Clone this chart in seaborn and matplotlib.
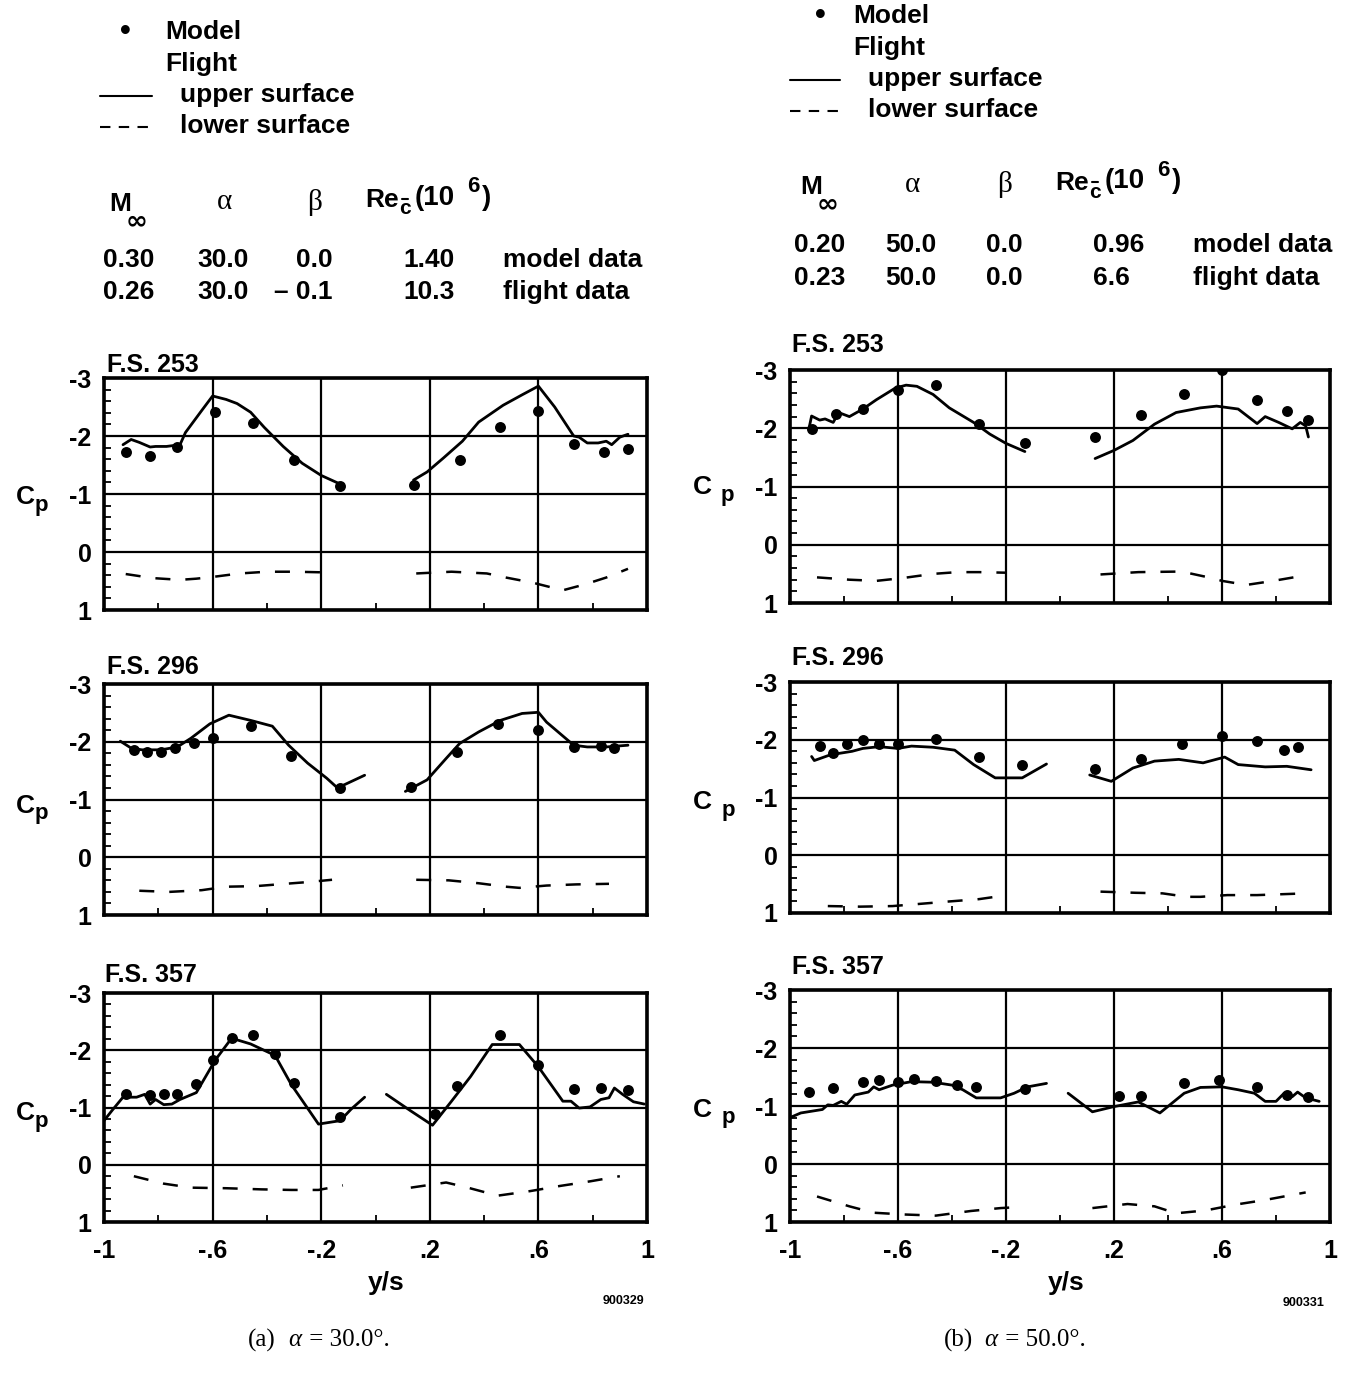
import numpy as np
import pandas as pd
import matplotlib
matplotlib.use("Agg")
import matplotlib.pyplot as plt
import seaborn as sns
from matplotlib.lines import Line2D
from matplotlib.ticker import FixedLocator, MultipleLocator

# ---------------- data (y/s, Cp) ----------------
# (a) alpha = 30, F.S. 253
A253_UP_L_X = [-0.93, -0.90, -0.87, -0.83, -0.81, -0.77, -0.72, -0.70, -0.64, -0.60, -0.55, -0.51, -0.46, -0.41, -0.34, -0.27, -0.20, -0.12]
A253_UP_L_CP = [-1.85, -1.94, -1.89, -1.81, -1.82, -1.82, -1.85, -2.06, -2.44, -2.69, -2.63, -2.56, -2.41, -2.15, -1.82, -1.53, -1.32, -1.15]
A253_UP_R_X = [0.14, 0.19, 0.25, 0.32, 0.38, 0.47, 0.54, 0.60, 0.66, 0.73, 0.75, 0.78, 0.82, 0.85, 0.87, 0.90, 0.93]
A253_UP_R_CP = [-1.24, -1.38, -1.62, -1.91, -2.24, -2.53, -2.71, -2.86, -2.50, -2.00, -1.98, -1.88, -1.88, -1.91, -1.85, -1.98, -2.03]
A253_LO_L_X = [-0.92, -0.82, -0.72, -0.66, -0.60, -0.50, -0.40, -0.30, -0.20]
A253_LO_L_CP = [0.38, 0.45, 0.48, 0.46, 0.43, 0.37, 0.34, 0.34, 0.35]
A253_LO_R_X = [0.15, 0.28, 0.41, 0.48, 0.58, 0.69, 0.77, 0.85, 0.93]
A253_LO_R_CP = [0.37, 0.34, 0.37, 0.44, 0.53, 0.66, 0.56, 0.44, 0.29]
A253_MOD_X = [-0.92, -0.83, -0.73, -0.59, -0.45, -0.30, -0.13, 0.14, 0.31, 0.46, 0.60, 0.73, 0.84, 0.93]
A253_MOD_CP = [-1.72, -1.66, -1.81, -2.42, -2.22, -1.58, -1.14, -1.15, -1.58, -2.15, -2.43, -1.86, -1.72, -1.78]

# (a) F.S. 296
A296_UP_L_X = [-0.94, -0.90, -0.86, -0.79, -0.73, -0.68, -0.61, -0.54, -0.46, -0.38, -0.32, -0.25, -0.18, -0.14, -0.09, -0.04]
A296_UP_L_CP = [-2.01, -1.89, -1.86, -1.86, -1.91, -2.06, -2.31, -2.46, -2.37, -2.27, -1.94, -1.63, -1.37, -1.20, -1.31, -1.42]
A296_UP_R_X = [0.11, 0.19, 0.26, 0.31, 0.38, 0.46, 0.54, 0.60, 0.63, 0.68, 0.73, 0.78, 0.85, 0.93]
A296_UP_R_CP = [-1.14, -1.34, -1.71, -1.97, -2.17, -2.37, -2.49, -2.51, -2.34, -2.14, -1.94, -1.91, -1.91, -1.94]
A296_LO_L_X = [-0.87, -0.76, -0.64, -0.55, -0.44, -0.36, -0.25, -0.16]
A296_LO_L_CP = [0.58, 0.60, 0.57, 0.51, 0.50, 0.47, 0.43, 0.39]
A296_LO_R_X = [0.15, 0.27, 0.38, 0.48, 0.53, 0.63, 0.74, 0.86]
A296_LO_R_CP = [0.39, 0.40, 0.45, 0.51, 0.53, 0.49, 0.47, 0.46]
A296_MOD_X = [-0.89, -0.84, -0.79, -0.74, -0.67, -0.60, -0.46, -0.31, -0.13, 0.13, 0.30, 0.45, 0.60, 0.73, 0.83, 0.88]
A296_MOD_CP = [-1.86, -1.83, -1.83, -1.89, -1.98, -2.07, -2.27, -1.76, -1.20, -1.21, -1.83, -2.30, -2.20, -1.91, -1.93, -1.89]

# (a) F.S. 357
A357_UP_L_X = [-1.00, -0.97, -0.93, -0.88, -0.85, -0.83, -0.81, -0.78, -0.75, -0.72, -0.66, -0.59, -0.53, -0.46, -0.37, -0.31, -0.21, -0.13, -0.09, -0.04]
A357_UP_L_CP = [-0.77, -0.95, -1.18, -1.18, -1.23, -1.06, -1.14, -1.05, -1.06, -1.14, -1.26, -1.83, -2.21, -2.11, -1.91, -1.40, -0.71, -0.77, -0.97, -1.18]
A357_UP_R_X = [0.04, 0.13, 0.21, 0.28, 0.35, 0.43, 0.53, 0.60, 0.69, 0.72, 0.75, 0.79, 0.83, 0.86, 0.88, 0.91, 0.95, 0.99]
A357_UP_R_CP = [-1.23, -0.94, -0.69, -1.11, -1.54, -2.10, -2.10, -1.71, -1.11, -1.11, -0.99, -1.01, -1.14, -1.17, -1.34, -1.23, -1.10, -1.06]
A357_LO_L_X = [-0.89, -0.78, -0.68, -0.55, -0.42, -0.31, -0.21, -0.12]
A357_LO_L_CP = [0.20, 0.33, 0.40, 0.41, 0.43, 0.44, 0.44, 0.36]
A357_LO_R_X = [0.13, 0.26, 0.34, 0.45, 0.57, 0.68, 0.79, 0.90]
A357_LO_R_CP = [0.40, 0.31, 0.40, 0.54, 0.46, 0.37, 0.29, 0.20]
A357_MOD_X = [-0.92, -0.83, -0.78, -0.73, -0.66, -0.60, -0.53, -0.45, -0.37, -0.30, -0.13, 0.22, 0.30, 0.46, 0.60, 0.73, 0.83, 0.93]
A357_MOD_CP = [-1.23, -1.22, -1.24, -1.24, -1.41, -1.83, -2.21, -2.27, -1.94, -1.43, -0.83, -0.89, -1.38, -2.27, -1.75, -1.33, -1.34, -1.31]

# (b) alpha = 50, F.S. 253
B253_UP_L_X = [-0.93, -0.92, -0.89, -0.87, -0.84, -0.82, -0.78, -0.73, -0.68, -0.61, -0.57, -0.53, -0.47, -0.41, -0.32, -0.26, -0.20, -0.13]
B253_UP_L_CP = [-1.99, -2.21, -2.14, -2.16, -2.10, -2.27, -2.20, -2.33, -2.49, -2.69, -2.74, -2.72, -2.58, -2.35, -2.10, -1.90, -1.74, -1.60]
B253_UP_R_X = [0.13, 0.20, 0.27, 0.35, 0.43, 0.52, 0.58, 0.66, 0.73, 0.76, 0.81, 0.86, 0.89, 0.91, 0.92]
B253_UP_R_CP = [-1.48, -1.62, -1.79, -2.07, -2.27, -2.35, -2.38, -2.33, -2.08, -2.20, -2.10, -1.99, -2.10, -2.04, -1.85]
B253_LO_L_X = [-0.90, -0.78, -0.68, -0.58, -0.47, -0.38, -0.30, -0.20]
B253_LO_L_CP = [0.56, 0.60, 0.62, 0.57, 0.50, 0.47, 0.47, 0.48]
B253_LO_R_X = [0.15, 0.29, 0.45, 0.56, 0.60, 0.69, 0.79, 0.89]
B253_LO_R_CP = [0.51, 0.47, 0.46, 0.57, 0.62, 0.69, 0.62, 0.54]
B253_MOD_X = [-0.92, -0.83, -0.73, -0.60, -0.46, -0.30, -0.13, 0.13, 0.30, 0.46, 0.60, 0.73, 0.84, 0.92]
B253_MOD_CP = [-1.99, -2.24, -2.33, -2.66, -2.74, -2.07, -1.75, -1.85, -2.22, -2.59, -3.00, -2.49, -2.30, -2.14]

# (b) F.S. 296
B296_UP_L_X = [-0.92, -0.91, -0.85, -0.81, -0.77, -0.73, -0.67, -0.60, -0.55, -0.47, -0.39, -0.32, -0.24, -0.14, -0.05]
B296_UP_L_CP = [-1.71, -1.64, -1.74, -1.77, -1.80, -1.85, -1.88, -1.85, -1.89, -1.87, -1.82, -1.57, -1.34, -1.34, -1.58]
B296_UP_R_X = [0.11, 0.19, 0.27, 0.35, 0.44, 0.53, 0.61, 0.66, 0.76, 0.84, 0.93]
B296_UP_R_CP = [-1.39, -1.28, -1.51, -1.63, -1.66, -1.60, -1.70, -1.57, -1.53, -1.54, -1.48]
B296_LO_L_X = [-0.86, -0.74, -0.62, -0.54, -0.41, -0.30, -0.24]
B296_LO_L_CP = [0.88, 0.89, 0.88, 0.85, 0.80, 0.76, 0.72]
B296_LO_R_X = [0.15, 0.28, 0.38, 0.47, 0.52, 0.62, 0.73, 0.91]
B296_LO_R_CP = [0.63, 0.65, 0.66, 0.72, 0.72, 0.69, 0.69, 0.66]
B296_MOD_X = [-0.89, -0.84, -0.79, -0.73, -0.67, -0.60, -0.46, -0.30, -0.14, 0.13, 0.30, 0.45, 0.60, 0.73, 0.83, 0.88]
B296_MOD_CP = [-1.89, -1.77, -1.93, -1.99, -1.93, -1.93, -2.01, -1.70, -1.57, -1.49, -1.66, -1.92, -2.06, -1.97, -1.82, -1.87]

# (b) F.S. 357
B357_UP_L_X = [-1.00, -0.96, -0.88, -0.86, -0.84, -0.81, -0.79, -0.76, -0.71, -0.69, -0.67, -0.62, -0.55, -0.47, -0.40, -0.36, -0.31, -0.22, -0.17, -0.12, -0.05]
B357_UP_L_CP = [-0.80, -0.88, -0.94, -1.02, -1.01, -1.08, -1.03, -1.19, -1.24, -1.33, -1.28, -1.36, -1.42, -1.41, -1.36, -1.28, -1.14, -1.14, -1.22, -1.33, -1.39]
B357_UP_R_X = [0.03, 0.12, 0.20, 0.29, 0.37, 0.46, 0.52, 0.60, 0.66, 0.72, 0.76, 0.80, 0.83, 0.86, 0.88, 0.91, 0.96]
B357_UP_R_CP = [-1.22, -0.90, -0.99, -1.07, -0.88, -1.22, -1.32, -1.33, -1.28, -1.22, -1.08, -1.08, -1.22, -1.16, -1.24, -1.14, -1.08]
B357_LO_L_X = [-0.90, -0.78, -0.69, -0.58, -0.46, -0.33, -0.22, -0.14]
B357_LO_L_CP = [0.56, 0.73, 0.84, 0.87, 0.89, 0.81, 0.76, 0.74]
B357_LO_R_X = [0.12, 0.25, 0.35, 0.43, 0.54, 0.65, 0.76, 0.91]
B357_LO_R_CP = [0.76, 0.69, 0.73, 0.85, 0.80, 0.70, 0.62, 0.49]
B357_MOD_X = [-0.93, -0.84, -0.73, -0.67, -0.60, -0.54, -0.46, -0.38, -0.31, -0.13, 0.22, 0.30, 0.46, 0.59, 0.73, 0.84, 0.92]
B357_MOD_CP = [-1.24, -1.31, -1.42, -1.44, -1.42, -1.47, -1.43, -1.37, -1.32, -1.29, -1.18, -1.18, -1.39, -1.44, -1.33, -1.19, -1.15]

X_TICKS = [-1, -0.6, -0.2, 0.2, 0.6, 1]
X_TICK_LABELS = ["-1", "-.6", "-.2", ".2", ".6", "1"]
Y_TICKS = [-3, -2, -1, 0, 1]
Y_TICK_LABELS = ["-3", "-2", "-1", "0", "1"]
X_MINOR = [-0.8, -0.4, 0.0, 0.4, 0.8]

HEAD_COLS = ["M", "\u03b1", "\u03b2", "Re"]
A_MODEL_ROW = ["0.30", "30.0", "0.0", "1.40", "model data"]
A_FLIGHT_ROW = ["0.26", "30.0", "\u2013 0.1", "10.3", "flight data"]
B_MODEL_ROW = ["0.20", "50.0", "0.0", "0.96", "model data"]
B_FLIGHT_ROW = ["0.23", "50.0", "0.0", "6.6", "flight data"]
CAPTIONS = [("(a)", "30.0\u00b0."), ("(b)", "50.0\u00b0.")]

# ---------------- style ----------------
sns.set_theme(style="white")
plt.rcParams['font.family'] = ['Liberation Sans', 'DejaVu Sans']
plt.rcParams['font.weight'] = 'bold'
plt.rcParams['text.color'] = 'black'
plt.rcParams['axes.labelcolor'] = 'black'
plt.rcParams['xtick.color'] = 'black'
plt.rcParams['ytick.color'] = 'black'

W, H = 1357, 1374
fig = plt.figure(figsize=(W / 100, H / 100), dpi=100)
FS = 19
SERIF = ["Liberation Serif", "DejaVu Serif"]


def fx(px):
    return px / W


def fy(py):
    return 1 - py / H


def add_axes_px(l, t, r, b):
    return fig.add_axes([fx(l), fy(b), (r - l) / W, (b - t) / H])


def draw_panel(ax, upL, upR, loL, loR, mod, bottom):
    up = pd.DataFrame({"y": upL[0] + upR[0], "cp": upL[1] + upR[1],
                       "seg": [0] * len(upL[0]) + [1] * len(upR[0])})
    lo = pd.DataFrame({"y": loL[0] + loR[0], "cp": loL[1] + loR[1],
                       "seg": [0] * len(loL[0]) + [1] * len(loR[0])})
    sns.lineplot(data=up, x="y", y="cp", units="seg", estimator=None, sort=False,
                 color="black", linewidth=2.0, ax=ax, zorder=4)
    sns.lineplot(data=lo, x="y", y="cp", units="seg", estimator=None, sort=False,
                 color="black", linewidth=1.8, linestyle=(0, (6, 6)), ax=ax, zorder=4)
    sns.scatterplot(x=mod[0], y=mod[1], color="black", s=62, linewidth=0, ax=ax, zorder=5)
    ax.set_xlim(-1, 1)
    ax.set_ylim(1, -3)
    ax.set_xlabel("")
    ax.set_ylabel("")
    ax.xaxis.set_major_locator(FixedLocator(X_TICKS))
    ax.yaxis.set_major_locator(FixedLocator(Y_TICKS))
    ax.xaxis.set_minor_locator(FixedLocator(X_MINOR))
    ax.yaxis.set_minor_locator(MultipleLocator(0.2))
    ax.set_yticklabels(Y_TICK_LABELS, fontsize=FS - 1, fontweight="bold", color="black")
    if bottom:
        ax.set_xticklabels(X_TICK_LABELS, fontsize=FS - 1, fontweight="bold", color="black")
    else:
        ax.set_xticklabels([])
    ax.tick_params(axis="both", which="major", length=0, pad=9, colors="black")
    ax.tick_params(axis="x", which="major", pad=12)
    ax.tick_params(axis="y", which="minor", left=True, direction="in", length=5, width=1.3, color="black")
    ax.tick_params(axis="x", which="minor", bottom=True, direction="in", length=5, width=1.3, color="black")
    ax.grid(True, which="major", color="black", linewidth=1.6)
    ax.grid(False, which="minor")
    for sp in ax.spines.values():
        sp.set_visible(True)
        sp.set_color("black")
        sp.set_linewidth(2.6)


panels = [
    # rect (px), title, title pos, Cp label pos, data, bottom
    ((104, 378, 647, 610), "F.S. 253", (107, 365), (25, 497, 41, 506),
     (A253_UP_L_X, A253_UP_L_CP), (A253_UP_R_X, A253_UP_R_CP), (A253_LO_L_X, A253_LO_L_CP),
     (A253_LO_R_X, A253_LO_R_CP), (A253_MOD_X, A253_MOD_CP), False),
    ((104, 684, 647, 915), "F.S. 296", (107, 667), (25, 806, 41, 814),
     (A296_UP_L_X, A296_UP_L_CP), (A296_UP_R_X, A296_UP_R_CP), (A296_LO_L_X, A296_LO_L_CP),
     (A296_LO_R_X, A296_LO_R_CP), (A296_MOD_X, A296_MOD_CP), False),
    ((104, 993, 647, 1222), "F.S. 357", (105, 975), (25, 1113, 41, 1121),
     (A357_UP_L_X, A357_UP_L_CP), (A357_UP_R_X, A357_UP_R_CP), (A357_LO_L_X, A357_LO_L_CP),
     (A357_LO_R_X, A357_LO_R_CP), (A357_MOD_X, A357_MOD_CP), True),
    ((790, 370, 1330, 603), "F.S. 253", (792, 345), (702, 487, 727, 495),
     (B253_UP_L_X, B253_UP_L_CP), (B253_UP_R_X, B253_UP_R_CP), (B253_LO_L_X, B253_LO_L_CP),
     (B253_LO_R_X, B253_LO_R_CP), (B253_MOD_X, B253_MOD_CP), False),
    ((790, 682, 1330, 913), "F.S. 296", (792, 658), (702, 802, 728, 810),
     (B296_UP_L_X, B296_UP_L_CP), (B296_UP_R_X, B296_UP_R_CP), (B296_LO_L_X, B296_LO_L_CP),
     (B296_LO_R_X, B296_LO_R_CP), (B296_MOD_X, B296_MOD_CP), False),
    ((790, 990, 1330, 1222), "F.S. 357", (792, 967), (702, 1110, 728, 1117),
     (B357_UP_L_X, B357_UP_L_CP), (B357_UP_R_X, B357_UP_R_CP), (B357_LO_L_X, B357_LO_L_CP),
     (B357_LO_R_X, B357_LO_R_CP), (B357_MOD_X, B357_MOD_CP), True),
]

for rect, title, tpos, cpos, upL, upR, loL, loR, mod, bottom in panels:
    ax = add_axes_px(*rect)
    draw_panel(ax, upL, upR, loL, loR, mod, bottom)
    fig.text(fx(tpos[0]), fy(tpos[1]), title, fontsize=FS - 1, fontweight="bold",
             ha="left", va="center")
    fig.text(fx(cpos[0]), fy(cpos[1]), "C", fontsize=FS, fontweight="bold", ha="center", va="center")
    fig.text(fx(cpos[2]), fy(cpos[3]), "p", fontsize=FS - 3, fontweight="bold", ha="center", va="center")

# x labels and figure ids
fig.text(fx(386), fy(1283), "y/s", fontsize=FS, fontweight="bold", ha="center", va="center")
fig.text(fx(1066), fy(1283), "y/s", fontsize=FS, fontweight="bold", ha="center", va="center")
fig.text(fx(623), fy(1301), "900329", fontsize=9, fontweight="bold", ha="center", va="center")
fig.text(fx(1304), fy(1303), "900331", fontsize=9, fontweight="bold", ha="center", va="center")

# captions: "(a)  α = 30.0°." with italic, non-bold alpha
for (lab, val), x0 in zip(CAPTIONS, (248, 944)):
    fig.text(fx(x0), fy(1340), lab, fontsize=18, fontweight="normal", family=SERIF,
             ha="left", va="center")
    fig.text(fx(x0 + 40), fy(1340), "\u03b1", fontsize=18, fontweight="normal", style="italic",
             family=SERIF, ha="left", va="center")
    fig.text(fx(x0 + 55), fy(1340), " = " + val, fontsize=18, fontweight="normal", family=SERIF,
             ha="left", va="center")


# ---------------- headers ----------------
def header(x0, y0, line_x0, line_x1, text_x, rows_y, col_x, ym, row_m, row_f):
    # legend block
    fig.text(fx(x0), fy(y0), "\u2022", fontsize=FS + 3, ha="center", va="center")
    fig.text(fx(text_x), fy(y0), "Model", fontsize=FS, ha="left", va="center")
    fig.text(fx(text_x), fy(y0 + 32), "Flight", fontsize=FS, ha="left", va="center")
    fig.add_artist(Line2D([fx(line_x0), fx(line_x1)], [fy(y0 + 64), fy(y0 + 64)],
                          color="black", lw=1.5))
    fig.add_artist(Line2D([fx(line_x0), fx(line_x1)], [fy(y0 + 95), fy(y0 + 95)],
                          color="black", lw=1.5, linestyle=(0, (5, 4))))
    fig.text(fx(text_x + 15), fy(y0 + 63), "upper surface", fontsize=FS, ha="left", va="center")
    fig.text(fx(text_x + 15), fy(y0 + 94), "lower surface", fontsize=FS, ha="left", va="center")
    # parameter table header
    mx, ax_, bx, rx = col_x
    fig.text(fx(mx), fy(ym), HEAD_COLS[0], fontsize=FS, ha="left", va="center")
    fig.text(fx(mx + 28), fy(ym + 17), "\u221e", fontsize=FS, ha="center", va="center",
             family=["DejaVu Sans"], fontweight="bold")
    fig.text(fx(ax_), fy(ym - 2), HEAD_COLS[1], fontsize=FS + 2, fontweight="normal",
             family=SERIF, ha="center", va="center")
    fig.text(fx(bx), fy(ym - 2), HEAD_COLS[2], fontsize=FS + 2, fontweight="normal",
             family=SERIF, ha="center", va="center")
    fig.text(fx(rx), fy(ym - 4), HEAD_COLS[3], fontsize=FS, ha="left", va="center")
    fig.text(fx(rx + 40), fy(ym + 5), "c", fontsize=FS - 4, ha="center", va="center")
    fig.add_artist(Line2D([fx(rx + 37), fx(rx + 43)], [fy(ym - 5), fy(ym - 5)], color="black", lw=1.5))
    fig.text(fx(rx + 50), fy(ym - 6), "(10", fontsize=FS + 1, ha="left", va="center")
    fig.text(fx(rx + 102), fy(ym - 17), "6", fontsize=FS - 3, ha="left", va="center")
    fig.text(fx(rx + 117), fy(ym - 6), ")", fontsize=FS + 1, ha="left", va="center")
    # rows
    for ry, row in zip(rows_y, (row_m, row_f)):
        xs = [mx - 6, ax_ - 28, bx + 18, rx + 38, rx + 138]
        for i, (xx, val) in enumerate(zip(xs, row)):
            ha = "right" if i == 2 else "left"
            fig.text(fx(xx), fy(ry), val, fontsize=FS, ha=ha, va="center")


header(125, 32, 100, 152, 165, (260, 292), (109, 225, 315, 365), 204, A_MODEL_ROW, A_FLIGHT_ROW)
header(820, 16, 790, 840, 853, (245, 278), (800, 913, 1005, 1055), 187, B_MODEL_ROW, B_FLIGHT_ROW)

fig.savefig("out.png", dpi=100, facecolor="white")
